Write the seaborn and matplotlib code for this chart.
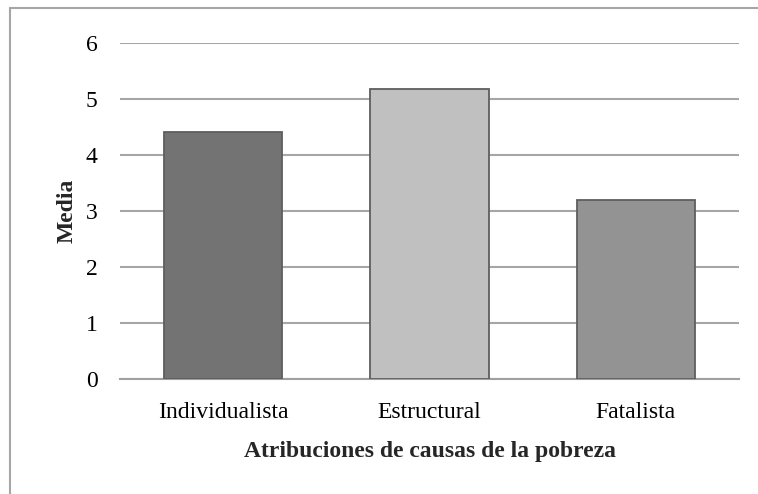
import pandas as pd
import seaborn as sns
import matplotlib.pyplot as plt
from matplotlib.lines import Line2D

categorias = ['Individualista', 'Estructural', 'Fatalista']
medias = [4.41, 5.18, 3.20]
colores = ['#737373', '#c0c0c0', '#939393']

df = pd.DataFrame({'categoria': categorias, 'media': medias})

sns.set_style('white')
plt.rcParams['font.family'] = ['Liberation Serif', 'DejaVu Serif']

fig = plt.figure(figsize=(7.58, 4.94), dpi=100)
ax = fig.add_axes([120 / 758, 1 - 379 / 494, 619 / 758, 336 / 494])

sns.barplot(data=df, x='categoria', y='media', hue='categoria', palette=colores,
            width=0.572, edgecolor='#5e5e5e', linewidth=1.3, legend=False, ax=ax, zorder=3)

ax.set_ylim(0, 6)
ax.set_yticks(range(0, 7))
ax.set_xlim(-0.5, 2.5)
ax.yaxis.grid(True, color='#a6a6a6', linewidth=1.5, zorder=0)
ax.set_axisbelow(True)
for s in ['top', 'right', 'left']:
    ax.spines[s].set_visible(False)
ax.spines['bottom'].set_color('#a0a0a0')
ax.spines['bottom'].set_linewidth(1.5)
ax.tick_params(axis='both', length=0, labelsize=17, colors='black')
ax.tick_params(axis='y', pad=16)
ax.tick_params(axis='x', pad=16.5)

ax.set_xlabel('Atribuciones de causas de la pobreza', fontsize=17, fontweight='bold', labelpad=13)
ax.set_ylabel('Media', fontsize=17, fontweight='bold')
ax.yaxis.set_label_coords(-0.069, 0.5)

# marco del gráfico (solo bordes superior e izquierdo visibles)
fig.add_artist(Line2D([10 / 758, 1], [1 - 8 / 494, 1 - 8 / 494], color='#a6a6a6', lw=1.5))
fig.add_artist(Line2D([10 / 758, 10 / 758], [0, 1 - 8 / 494], color='#a6a6a6', lw=1.5))

plt.savefig('out.png', dpi=100)
